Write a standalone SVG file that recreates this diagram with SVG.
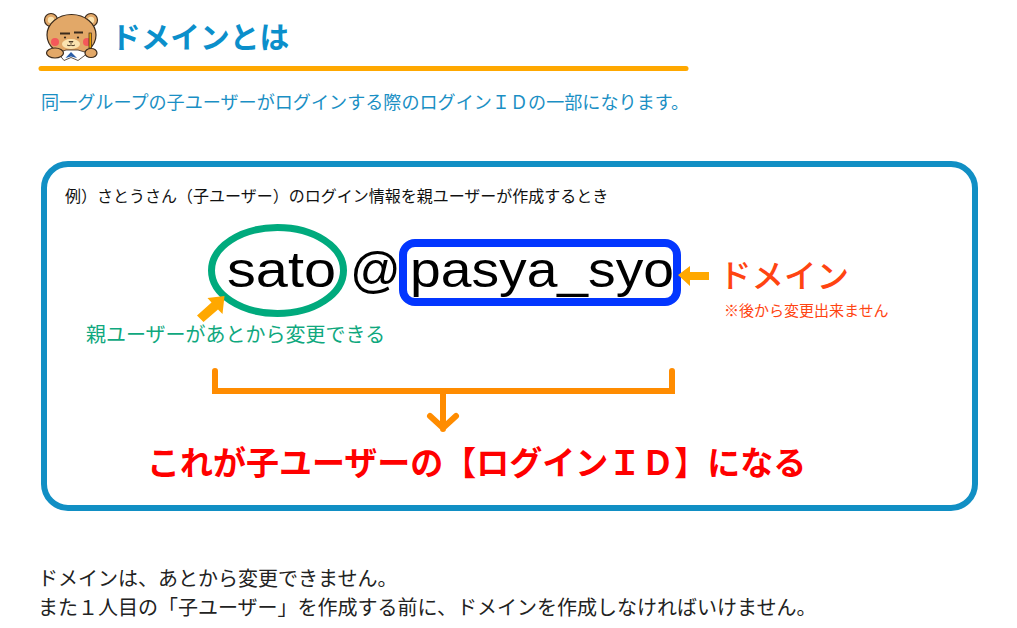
<svg xmlns="http://www.w3.org/2000/svg" width="1017" height="628" viewBox="0 0 1017 628">
<style>
text{font-family:"Noto Sans CJK JP","Noto Sans",sans-serif}
.lat{font-family:"Liberation Sans",Arial,sans-serif;font-size:50px;fill:#000}
.or{fill:none;stroke:#ff8c00;stroke-width:6;stroke-linecap:round;stroke-linejoin:miter}
.amb{fill:#ffa800}
.bl{stroke:#3a2a1c;stroke-width:1.2}
</style>
<rect width="1017" height="628" fill="#fff"/>
<g id="bear">
<circle class="bl" cx="51" cy="20" r="6.500" fill="#e2a868"/><circle cx="51" cy="20" r="3.200" fill="#fbe3b0"/>
<circle class="bl" cx="91" cy="20" r="6.500" fill="#e2a868"/><circle cx="91" cy="20" r="3.200" fill="#fbe3b0"/>
<ellipse class="bl" cx="71.500" cy="35" rx="24.500" ry="20.500" fill="#e2a868"/>
<circle cx="55" cy="42" r="4" fill="#f4585a"/><circle cx="87" cy="42" r="4" fill="#f4585a"/>
<ellipse cx="71" cy="44" rx="9" ry="5" fill="#fbe3b0"/>
<path d="M60 33.500h10M74 32.500h9" stroke="#3a2a1c" stroke-width="1.800" fill="none"/>
<circle cx="65" cy="37.500" r="1.100" fill="#3a2a1c"/><circle cx="78" cy="37.500" r="1.100" fill="#3a2a1c"/>
<path d="M69 41.500h4l-2 2zM67 45q2 1.500 4 0q2 1.500 4 0" stroke="#3a2a1c" fill="none" stroke-width=".9"/>
<path d="M58 53L66 50h12l10 3-10 7.500-7-3-7 3z" fill="#fff" stroke="#3a2a1c" stroke-width=".8"/>
<path d="M71 52l6 6-6-1.500-5.500 1.500z" fill="#2a5ea8"/>
<rect x="89" y="33" width="2.400" height="15" fill="#e8a000" stroke="#3a2a1c" stroke-width=".7"/>
<ellipse class="bl" cx="55" cy="53" rx="8.500" ry="5" fill="#e2a868"/>
<ellipse class="bl" cx="91" cy="53" rx="6" ry="4.500" fill="#e2a868"/>
</g>
<g id="heading">
<text x="111" y="48" font-size="29.700" font-weight="700" fill="#0b8fcb">ドメインとは</text>
<path d="M41 68.500H686" stroke="#ffa800" stroke-width="5" stroke-linecap="round"/>
<text x="41" y="109" font-size="18.100" fill="#1a8fc4">同一グループの子ユーザーがログインする際のログインＩＤの一部になります。</text>
</g>
<g id="panel">
<rect x="44" y="164" width="931" height="344" rx="24" fill="#fff" stroke="#118fc4" stroke-width="6"/>
<text x="65" y="202" font-size="16" fill="#111">例）さとうさん（子ユーザー）のログイン情報を親ユーザーが作成するとき</text>
</g>
<g id="sato">
<ellipse cx="277.500" cy="270.500" rx="66" ry="43" fill="none" stroke="#00aa7d" stroke-width="7"/>
<text class="lat" x="227" y="287" textLength="109" lengthAdjust="spacingAndGlyphs">sato</text>
</g>
<text id="at" class="lat" x="350" y="287">@</text>
<g id="domain-box">
<rect x="403" y="243" width="274" height="59" rx="12" fill="none" stroke="#0336ff" stroke-width="8"/>
<text class="lat" x="410" y="287" textLength="264" lengthAdjust="spacingAndGlyphs">pasya_syo</text>
</g>
<g id="label-parent"><text x="86" y="342" font-size="20" fill="#0fa87e">親ユーザーがあとから変更できる</text></g>
<g id="label-domain">
<text x="719" y="288" font-size="32.500" font-weight="500" fill="#ff4411">ドメイン</text>
<text x="724" y="316" font-size="15" fill="#ff4411">※後から変更出来ません</text>
</g>
<g id="connectors">
<path class="amb" d="M197 315.500l14.500-13-4-4.500 17-2-2 18-4.500-4.500-14.500 12.500z"/>
<path class="amb" d="M678 275l12-9v6h19v8h-19v6z"/>
<path class="or" d="M215 371V391H672V371"/>
<path class="or" d="M443 391V429M430 416l13 12 13-12"/>
</g>
<g id="result"><text x="147" y="475" font-size="33" font-weight="700" fill="#ff0000">これが子ユーザーの【ログインＩＤ】になる</text></g>
<g id="footer">
<text x="38" y="586" font-size="20" fill="#222">ドメインは、あとから変更できません。</text>
<text x="38" y="615" font-size="20" fill="#222">また１人目の「子ユーザー」を作成する前に、ドメインを作成しなければいけません。</text>
</g>
</svg>
